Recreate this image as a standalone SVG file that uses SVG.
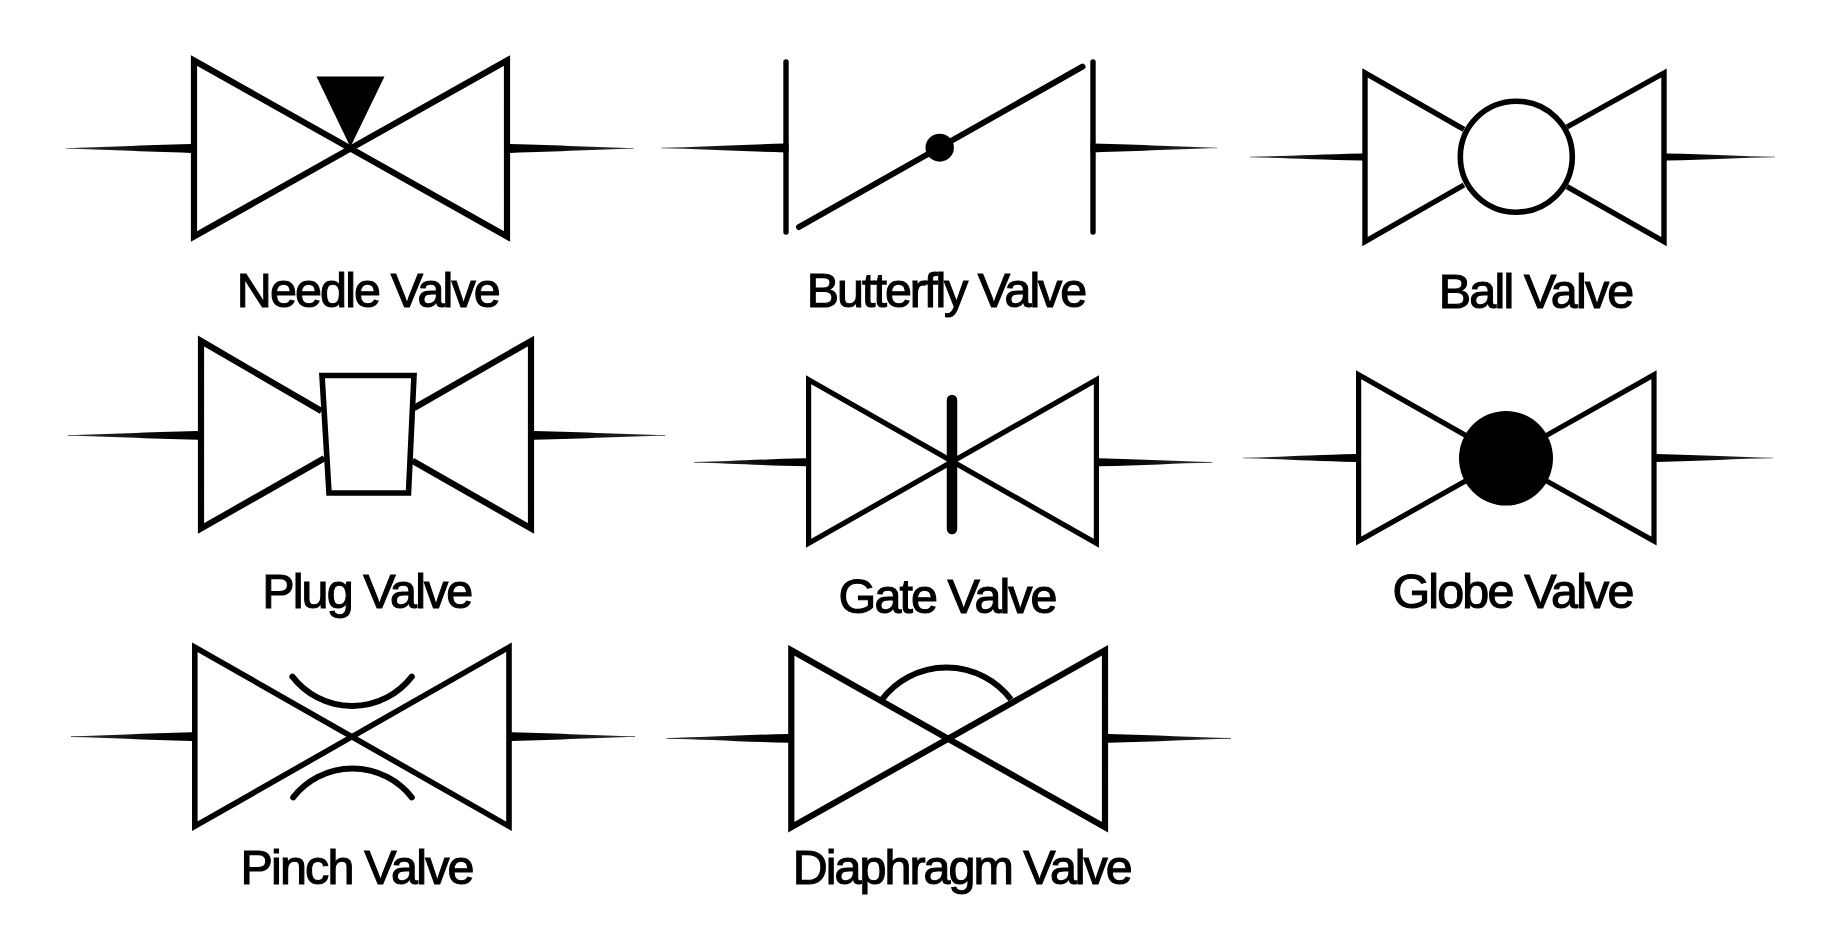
<svg xmlns="http://www.w3.org/2000/svg" width="1845" height="951" viewBox="0 0 1845 951">
<style>
.b{fill:none;stroke:#000;stroke-width:6.2;stroke-miterlimit:10;stroke-linejoin:miter}
.r{fill:none;stroke:#000;stroke-width:6;stroke-linecap:round}
.k{fill:#000;stroke:none}
.w{fill:#fff;stroke:#000;stroke-width:5.6}
text{font-family:"Liberation Sans",Arial,sans-serif;font-size:48.5px;fill:#000;stroke:#000;stroke-width:1.1}
</style>
<defs>
<linearGradient id="fade" x1="0" x2="1" y1="0" y2="0"><stop offset="0" stop-color="#333"/><stop offset=".5" stop-color="#111"/><stop offset=".8" stop-color="#000"/></linearGradient>
<path id="stub" d="M0-.35C30-.8 60-3.2 100-4.2L102-4.2V4.2L100 4.2C60 3.2 30 .8 0 .35Z" fill="url(#fade)"/>
</defs>
<rect width="1845" height="951" fill="#fff"/>
<g id="connectors">
<use href="#stub" transform="translate(66,148.5) scale(1.25,1.05)"/>
<use href="#stub" transform="translate(634,148.5) scale(-1.24,1.05)"/>
<use href="#stub" transform="translate(661,148) scale(1.25,1.05)"/>
<use href="#stub" transform="translate(1217,148) scale(-1.24,1.05)"/>
<use href="#stub" transform="translate(1250,157) scale(1.12,.85)"/>
<use href="#stub" transform="translate(1775,157) scale(-1.09,.85)"/>
<use href="#stub" transform="translate(68,435.3) scale(1.3,1.05)"/>
<use href="#stub" transform="translate(665,435.3) scale(-1.31,1.05)"/>
<use href="#stub" transform="translate(694.5,462.3) scale(1.12,.95)"/>
<use href="#stub" transform="translate(1212,462.3) scale(-1.14,.95)"/>
<use href="#stub" transform="translate(1243,458) scale(1.13,.95)"/>
<use href="#stub" transform="translate(1773,458) scale(-1.17,.95)"/>
<use href="#stub" transform="translate(71,736.7) scale(1.21,1.05)"/>
<use href="#stub" transform="translate(635,736.7) scale(-1.24,1.05)"/>
<use href="#stub" transform="translate(666.5,738.3) scale(1.23,1.05)"/>
<use href="#stub" transform="translate(1231,738.3) scale(-1.23,1.05)"/>
</g>
<g id="needle-valve">
<path class="b" d="M194 60.5L507 236.5V60.5L194 236.5Z"/>
<path class="k" d="M316.5 76.5H384.5L350.4 147Z"/>
<text x="236.8" y="307.2" textLength="264">Needle Valve</text>
</g>
<g id="butterfly-valve">
<path class="r" style="stroke-width:5.4" d="M786 62V232M1093 62V232"/>
<path class="r" d="M799 227L1082.5 66.7"/>
<ellipse class="k" cx="939.7" cy="147.7" rx="14.2" ry="14"/>
<text x="806.8" y="307.2" textLength="280.5">Butterfly Valve</text>
</g>
<g id="ball-valve">
<path class="b" style="stroke-width:5.4" d="M1463.9 129.3L1365 73V241.5L1463.9 185M1567 127L1664 73V241.5L1567 186.7"/>
<ellipse class="w" cx="1516.3" cy="156.7" rx="56" ry="55.5"/>
<text x="1438.8" y="307.5" textLength="195.5">Ball Valve</text>
</g>
<g id="plug-valve">
<path class="b" d="M321.4 411L201 341V528.5L324.3 458.3M414 408L531 341V528.5L412.4 460.7"/>
<path class="w" d="M322 375.5H414L408.5 493H329Z"/>
<text x="262.3" y="608" textLength="211">Plug Valve</text>
</g>
<g id="gate-valve">
<path class="b" style="stroke-width:5.2" d="M808.6 379.7L1096.4 543.3V379.7L808.6 543.3Z"/>
<path class="r" style="stroke-width:10.5" d="M952 400V529"/>
<text x="838.6" y="613" textLength="219">Gate Valve</text>
</g>
<g id="globe-valve">
<path class="b" style="stroke-width:5.2" d="M1506 458.3L1358.6 374.7V541L1506 458.3L1654 374.7V541Z"/>
<ellipse class="k" cx="1506" cy="458.3" rx="47" ry="47.3"/>
<text x="1392.4" y="607.5" textLength="242">Globe Valve</text>
</g>
<g id="pinch-valve">
<path class="b" style="stroke-width:5.6" d="M194.8 647.2L509 826.3V647.2L194.8 826.3Z"/>
<path class="r" d="M292.4 676.7A75.5 75.5 0 0 0 411.8 676.7M293.2 797.3A75.5 75.5 0 0 1 411.8 797.3"/>
<text x="240.5" y="884" textLength="234">Pinch Valve</text>
</g>
<g id="diaphragm-valve">
<path class="b" d="M791.3 650.2L1105 827.3V650.2L791.3 827.3Z"/>
<path class="r" style="stroke-linecap:butt" d="M882 699.5A81 81 0 0 1 1011 699.5"/>
<text x="792.8" y="884" textLength="340">Diaphragm Valve</text>
</g>
</svg>
